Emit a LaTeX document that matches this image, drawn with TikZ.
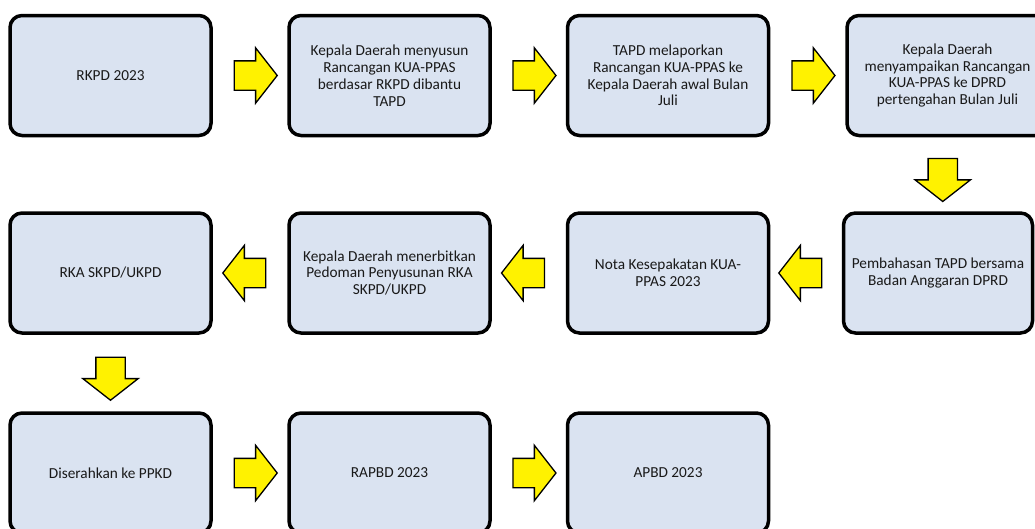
\documentclass[tikz,border=0pt]{standalone}
\usepackage{fontspec}
\setmainfont{Carlito}
\usetikzlibrary{shapes.arrows,calc}
\definecolor{boxfill}{HTML}{DAE3F1}
\begin{document}
\begin{tikzpicture}[x=1pt,y=-1pt,
  box/.style={draw=black, line width=3.5pt, rounded corners=12pt, fill=boxfill,
    minimum width=201pt, minimum height=120pt, align=center,
    font=\fontsize{15.3}{16.8}\selectfont, inner sep=0pt, text=black!90},
  blk/.style={single arrow, draw=black, line width=1.3pt, fill=yellow,
    inner xsep=0pt, inner ysep=14pt, single arrow head extend=13pt,
    single arrow tip angle=104, minimum height=43pt}]
\useasboundingbox (0,0) rectangle (1035,528);
\clip (0,0) rectangle (1035,528);
% row 1
\node[box] (r1c1) at (110.5,75.5) {RKPD 2023};
\node[box] (r1c2) at (389.5,75.5) {Kepala Daerah menyusun\\Rancangan KUA-PPAS\\berdasar RKPD dibantu\\TAPD};
\node[box] (r1c3) at (668,75.5) {TAPD melaporkan\\Rancangan KUA-PPAS ke\\Kepala Daerah awal Bulan\\Juli};
\node[box] (r1c4) at (947.5,75.5) {Kepala Daerah\\menyampaikan Rancangan\\KUA-PPAS ke DPRD\\pertengahan Bulan Juli};
% row 2
\node[box, minimum width=189pt] (r2c4) at (938,273) {Pembahasan TAPD bersama\\Badan Anggaran DPRD};
\node[box] (r2c3) at (668,273) {Nota Kesepakatan KUA-\\PPAS 2023};
\node[box] (r2c2) at (389.5,273) {Kepala Daerah menerbitkan\\Pedoman Penyusunan RKA\\SKPD/UKPD};
\node[box] (r2c1) at (110.5,273) {RKA SKPD/UKPD};
% row 3
\node[box] (r3c1) at (110.5,473) {Diserahkan ke PPKD};
\node[box] (r3c2) at (389.5,473) {RAPBD 2023};
\node[box] (r3c3) at (668,473) {APBD 2023};
% arrows
\node[blk] (a1) at ($(r1c1.east)!0.5!(r1c2.west)$) {};
\node[blk] (a2) at ($(r1c2.east)!0.5!(r1c3.west)$) {};
\node[blk] (a3) at ($(r1c3.east)!0.5!(r1c4.west)$) {};
\node[blk, rotate=-90] (a4) at ($(r1c4.south)!0.5!(r2c4.north)$) {};
\node[blk, rotate=180] (a5) at ($(r2c4.west)!0.5!(r2c3.east)$) {};
\node[blk, rotate=180] (a6) at ($(r2c3.west)!0.5!(r2c2.east)$) {};
\node[blk, rotate=180] (a7) at ($(r2c2.west)!0.5!(r2c1.east)$) {};
\node[blk, rotate=-90] (a8) at ($(r2c1.south)!0.5!(r3c1.north)$) {};
\node[blk] (a9) at ($(r3c1.east)!0.5!(r3c2.west)$) {};
\node[blk] (a10) at ($(r3c2.east)!0.5!(r3c3.west)$) {};
\end{tikzpicture}
\end{document}
